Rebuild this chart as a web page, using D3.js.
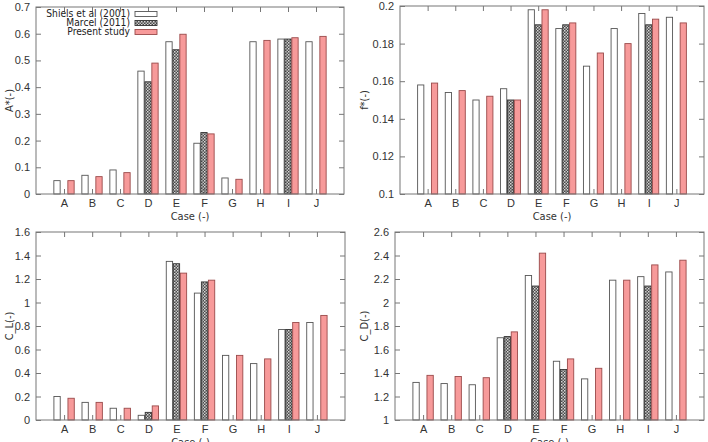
<!DOCTYPE html>
<html>
<head>
<meta charset="utf-8">
<script src="https://cdn.jsdelivr.net/npm/d3@7"></script>
<style>
  body { margin: 0; background: #fff; }
  svg { display: block; font-family: "Liberation Sans Narrow", "DejaVu Sans Condensed", "DejaVu Sans", sans-serif; font-stretch: condensed; }
</style>
</head>
<body>
<svg width="708" height="442"></svg>
<script>
// data
var cases = ["A", "B", "C", "D", "E", "F", "G", "H", "I", "J"];
var seriesNames = ["Shiels et al (2001)", "Marcel (2011)", "Present study"];

var aShiels  = [0.05, 0.07, 0.09, 0.46, 0.57, 0.19, 0.06, 0.57, 0.58, 0.57];
var aMarcel  = [null, null, null, 0.42, 0.54, 0.23, null, null, 0.58, null];
var aPresent = [0.05, 0.065, 0.08, 0.49, 0.598, 0.225, 0.055, 0.575, 0.585, 0.59];

var fShiels  = [0.158, 0.154, 0.150, 0.156, 0.198, 0.188, 0.168, 0.188, 0.196, 0.194];
var fMarcel  = [null, null, null, 0.150, 0.190, 0.190, null, null, 0.190, null];
var fPresent = [0.159, 0.155, 0.152, 0.150, 0.198, 0.191, 0.175, 0.180, 0.193, 0.191];

var clShiels  = [0.20, 0.15, 0.10, 0.04, 1.35, 1.08, 0.55, 0.48, 0.77, 0.83];
var clMarcel  = [null, null, null, 0.065, 1.33, 1.175, null, null, 0.77, null];
var clPresent = [0.185, 0.15, 0.10, 0.12, 1.25, 1.19, 0.55, 0.52, 0.83, 0.89];

var cdShiels  = [1.32, 1.31, 1.30, 1.70, 2.23, 1.50, 1.35, 2.19, 2.22, 2.26];
var cdMarcel  = [null, null, null, 1.71, 2.14, 1.43, null, null, 2.14, null];
var cdPresent = [1.38, 1.37, 1.36, 1.75, 2.42, 1.52, 1.44, 2.19, 2.32, 2.36];

var aTicks  = [0, 0.1, 0.2, 0.3, 0.4, 0.5, 0.6, 0.7];
var fTicks  = [0.1, 0.12, 0.14, 0.16, 0.18, 0.2];
var clTicks = [0, 0.2, 0.4, 0.6, 0.8, 1, 1.2, 1.4, 1.6];
var cdTicks = [1, 1.2, 1.4, 1.6, 1.8, 2, 2.2, 2.4, 2.6];

var svg = d3.select("svg");

var defs = svg.append("defs");
var pat = defs.append("pattern")
    .attr("id", "hatch")
    .attr("patternUnits", "userSpaceOnUse")
    .attr("width", 3).attr("height", 3);
pat.append("rect").attr("width", 3).attr("height", 3).attr("fill", "#4a4a4a");
pat.append("rect").attr("x", 0).attr("y", 0).attr("width", 1.5).attr("height", 1.5).attr("fill", "#d8d8d8");
pat.append("rect").attr("x", 1.5).attr("y", 1.5).attr("width", 1.5).attr("height", 1.5).attr("fill", "#bdbdbd");

var fills = ["#ffffff", "url(#hatch)", "#f79a9a"];
var strokes = ["#555", "#333", "#9a4a4a"];

function panel(box, series, ticks, ylabel, fmt, labelX) {
    var x = d3.scaleLinear().domain([-1, 10]).range([box.l, box.r]);
    var y = d3.scaleLinear().domain([ticks[0], ticks[ticks.length - 1]]).range([box.b, box.t]);
    var g = svg.append("g");
    var bw = (x(1) - x(0)) * 0.25;

    series.forEach(function(vals, si) {
        var data = vals.map(function(v, i) { return {i: i, v: v}; })
            .filter(function(d) { return d.v !== null; });
        g.append("g").selectAll("rect")
            .data(data)
            .enter().append("rect")
            .attr("x", function(d) { return x(d.i) + (si - 1) * bw - bw * 0.45; })
            .attr("width", bw * 0.9)
            .attr("y", function(d) { return y(d.v); })
            .attr("height", function(d) { return y(ticks[0]) - y(d.v); })
            .attr("fill", fills[si])
            .attr("stroke", strokes[si])
            .attr("stroke-width", 0.9);
    });

    // frame
    g.append("rect")
        .attr("x", box.l).attr("y", box.t)
        .attr("width", box.r - box.l).attr("height", box.b - box.t)
        .attr("fill", "none").attr("stroke", "#777").attr("stroke-width", 1);

    var yl = d3.axisLeft(y).tickValues(ticks).tickFormat(fmt).tickSizeInner(-5).tickSizeOuter(0).tickPadding(6);
    var yr = d3.axisRight(y).tickValues(ticks).tickFormat("").tickSizeInner(-5).tickSizeOuter(0);
    var xb = d3.axisBottom(x).tickValues(d3.range(10)).tickFormat(function(i) { return cases[i]; })
        .tickSizeInner(-5).tickSizeOuter(0).tickPadding(5);
    var xt = d3.axisTop(x).tickValues(d3.range(10)).tickFormat("").tickSizeInner(-5).tickSizeOuter(0);

    [[yl, "translate(" + box.l + ",0)"], [yr, "translate(" + box.r + ",0)"],
     [xb, "translate(0," + box.b + ")"], [xt, "translate(0," + box.t + ")"]].forEach(function(a) {
        var ax = g.append("g").attr("transform", a[1]).call(a[0]);
        ax.select(".domain").remove();
        ax.selectAll("line").attr("stroke", "#777");
        ax.selectAll("text").attr("fill", "#333")
            .style("font-family", null).style("font-size", "11px");
    });

    g.append("text")
        .attr("x", (box.l + box.r) / 2).attr("y", box.b + 26)
        .attr("text-anchor", "middle").attr("fill", "#333")
        .style("font-size", "11px").text("Case (-)");

    g.append("text")
        .attr("transform", "translate(" + labelX + "," + ((box.t + box.b) / 2) + ") rotate(-90)")
        .attr("text-anchor", "middle").attr("fill", "#333")
        .style("font-size", "11px").text(ylabel);

    return g;
}

var f1 = d3.format(".1f");
var fmtA = function(d) { return d === 0 ? "0" : f1(d); };
var fmtF = function(d) { return d === 0.2 ? "0.2" : d === 0.1 ? "0.1" : d3.format(".2f")(d); };
var fmtG = function(d) { return String(+d.toFixed(1)); };

var p1 = panel({l: 36, r: 344, t: 7, b: 194}, [aShiels, aMarcel, aPresent], aTicks, "A*(-)", fmtA, 13);
panel({l: 400, r: 704, t: 6, b: 194}, [fShiels, fMarcel, fPresent], fTicks, "f*(-)", fmtF, 368);
panel({l: 36, r: 345, t: 232, b: 420}, [clShiels, clMarcel, clPresent], clTicks, "C_L(-)", fmtG, 13);
panel({l: 395, r: 704, t: 232, b: 420}, [cdShiels, cdMarcel, cdPresent], cdTicks, "C_D(-)", fmtG, 368);

// legend
var leg = p1.append("g");
seriesNames.forEach(function(name, i) {
    var yy = 14 + i * 9;
    leg.append("text")
        .attr("x", 130).attr("y", yy + 3.3)
        .attr("text-anchor", "end").attr("fill", "#222")
        .style("font-size", "10.2px").text(name);
    leg.append("rect")
        .attr("x", 135).attr("y", yy - 2.5)
        .attr("width", 22).attr("height", 5)
        .attr("fill", fills[i]).attr("stroke", strokes[i]).attr("stroke-width", 0.9);
});
</script>
</body>
</html>
